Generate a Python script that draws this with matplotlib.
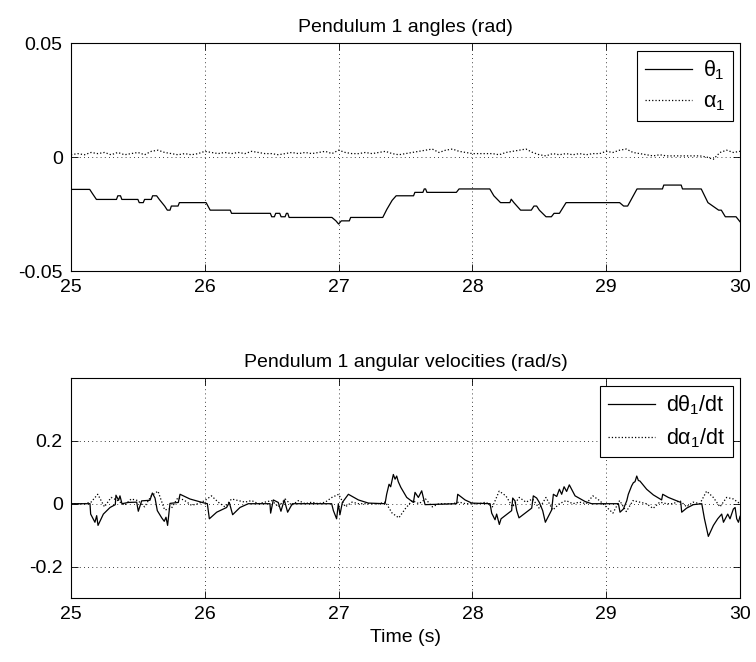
import matplotlib

matplotlib.use("Agg")
import matplotlib.pyplot as plt
import numpy as np

plt.rcParams["font.family"] = ["Liberation Sans", "DejaVu Sans"]
plt.rcParams["mathtext.fontset"] = "custom"
plt.rcParams["mathtext.rm"] = "Liberation Sans"
plt.rcParams["mathtext.it"] = "Liberation Sans"
plt.rcParams["axes.unicode_minus"] = False

# --- pendulum 1 angle theta_1 (rad), breakpoints
theta_t = [
    25.00, 25.14, 25.16, 25.19, 25.34, 25.35, 25.37, 25.38, 25.50, 25.51,
    25.54, 25.55, 25.60, 25.61, 25.64, 25.66, 25.70, 25.72, 25.74, 25.75,
    25.80, 25.81, 26.01, 26.04, 26.19, 26.20, 26.49, 26.50, 26.52, 26.53,
    26.56, 26.57, 26.60, 26.61, 26.62, 26.63, 26.95, 26.98, 27.00, 27.02,
    27.08, 27.09, 27.33, 27.36, 27.40, 27.43, 27.56, 27.57, 27.63, 27.64,
    27.65, 27.66, 27.88, 27.90, 28.13, 28.16, 28.21, 28.28, 28.29, 28.31,
    28.36, 28.44, 28.46, 28.48, 28.50, 28.55, 28.59, 28.61, 28.65, 28.70,
    29.10, 29.13, 29.16, 29.23, 29.42, 29.43, 29.56, 29.57, 29.71, 29.76,
    29.84, 29.86, 29.89, 29.97, 30.00,
]
theta_v = [
    -0.0142, -0.0142, -0.0160, -0.0186, -0.0186, -0.0170, -0.0170, -0.0186, -0.0186, -0.0200,
    -0.0200, -0.0186, -0.0186, -0.0170, -0.0170, -0.0186, -0.0215, -0.0233, -0.0233, -0.0215,
    -0.0215, -0.0200, -0.0200, -0.0233, -0.0233, -0.0247, -0.0247, -0.0262, -0.0262, -0.0247,
    -0.0247, -0.0262, -0.0262, -0.0247, -0.0247, -0.0265, -0.0265, -0.0280, -0.0294, -0.0280,
    -0.0280, -0.0265, -0.0265, -0.0230, -0.0190, -0.0170, -0.0170, -0.0155, -0.0155, -0.0140,
    -0.0140, -0.0155, -0.0155, -0.0140, -0.0140, -0.0170, -0.0200, -0.0200, -0.0185, -0.0200,
    -0.0233, -0.0233, -0.0215, -0.0215, -0.0233, -0.0262, -0.0262, -0.0247, -0.0247, -0.0200,
    -0.0200, -0.0215, -0.0215, -0.0140, -0.0140, -0.0123, -0.0123, -0.0140, -0.0140, -0.0200,
    -0.0233, -0.0233, -0.0262, -0.0262, -0.0284,
]

# --- pendulum 1 angle alpha_1 (rad), sampled every 0.05 s
alpha_v = [
    0.0010, 0.0015, 0.0010, 0.0020, 0.0015, 0.0020, 0.0010, 0.0020, 0.0010, 0.0015,
    0.0020, 0.0010, 0.0025, 0.0030, 0.0020, 0.0015, 0.0010, 0.0015, 0.0010, 0.0015,
    0.0025, 0.0020, 0.0015, 0.0020, 0.0015, 0.0020, 0.0015, 0.0025, 0.0020, 0.0015,
    0.0015, 0.0010, 0.0015, 0.0020, 0.0015, 0.0020, 0.0015, 0.0020, 0.0025, 0.0015,
    0.0030, 0.0020, 0.0015, 0.0015, 0.0020, 0.0015, 0.0020, 0.0025, 0.0015, 0.0010,
    0.0015, 0.0020, 0.0025, 0.0030, 0.0035, 0.0020, 0.0030, 0.0035, 0.0025, 0.0020,
    0.0015, 0.0015, 0.0015, 0.0015, 0.0010, 0.0020, 0.0025, 0.0030, 0.0035, 0.0020,
    0.0010, 0.0005, 0.0015, 0.0010, 0.0015, 0.0010, 0.0015, 0.0010, 0.0015, 0.0015,
    0.0025, 0.0020, 0.0030, 0.0035, 0.0020, 0.0015, 0.0010, 0.0005, 0.0010, 0.0005,
    0.0005, 0.0005, 0.0005, 0.0005, 0.0005, 0.0000, -0.0010, 0.0020, 0.0030, 0.0020,
    0.0025,
]
alpha_t = np.linspace(25.0, 30.0, len(alpha_v))

# --- d theta_1 / dt (rad/s), breakpoints
dtheta_t = [
    25.000, 25.142, 25.147, 25.179, 25.192, 25.202, 25.242, 25.292, 25.331, 25.336,
    25.356, 25.366, 25.381, 25.428, 25.491, 25.503, 25.528, 25.590, 25.608, 25.628,
    25.645, 25.678, 25.697, 25.710, 25.722, 25.740, 25.802, 25.815, 25.889, 25.989,
    26.019, 26.034, 26.089, 26.163, 26.183, 26.208, 26.263, 26.325, 26.487, 26.492,
    26.512, 26.549, 26.569, 26.594, 26.619, 26.654, 26.948, 26.961, 26.985, 26.998,
    27.010, 27.028, 27.073, 27.148, 27.222, 27.347, 27.359, 27.377, 27.389, 27.409,
    27.422, 27.434, 27.446, 27.465, 27.509, 27.559, 27.571, 27.596, 27.621, 27.646,
    27.882, 27.890, 27.945, 27.995, 28.132, 28.144, 28.169, 28.181, 28.201, 28.214,
    28.293, 28.301, 28.318, 28.331, 28.348, 28.443, 28.455, 28.480, 28.500, 28.525,
    28.545, 28.592, 28.605, 28.630, 28.650, 28.667, 28.685, 28.704, 28.724, 28.767,
    28.842, 28.891, 29.091, 29.103, 29.128, 29.153, 29.165, 29.190, 29.203, 29.215,
    29.228, 29.240, 29.252, 29.302, 29.352, 29.414, 29.422, 29.464, 29.539, 29.557,
    29.564, 29.601, 29.651, 29.714, 29.734, 29.763, 29.801, 29.833, 29.863, 29.876,
    29.908, 29.925, 29.950, 29.963, 29.975, 29.988, 30.000,
]
dtheta_v = [
    0.000, 0.000, -0.033, -0.059, -0.038, -0.069, -0.033, -0.012, -0.003, 0.027,
    0.011, 0.025, 0.000, 0.004, 0.005, -0.024, 0.009, 0.011, 0.034, 0.018,
    -0.022, -0.045, -0.056, -0.043, -0.069, 0.001, 0.004, 0.030, 0.015, 0.003,
    0.000, -0.048, -0.027, -0.012, 0.004, -0.035, -0.012, 0.000, 0.000, -0.030,
    0.012, 0.004, -0.024, 0.012, -0.027, 0.000, 0.000, -0.022, -0.048, 0.000,
    -0.035, 0.004, 0.030, 0.012, 0.002, 0.000, 0.030, 0.062, 0.054, 0.093,
    0.078, 0.088, 0.070, 0.052, 0.020, 0.004, 0.036, 0.020, 0.041, -0.003,
    0.000, 0.030, 0.012, 0.002, 0.000, -0.030, -0.051, -0.033, -0.066, -0.048,
    -0.022, 0.018, 0.009, -0.022, -0.045, -0.014, 0.025, 0.018, 0.004, -0.022,
    -0.059, -0.020, 0.030, 0.023, 0.046, 0.030, 0.054, 0.039, 0.060, 0.025,
    0.007, 0.000, 0.000, -0.027, -0.017, 0.009, 0.030, 0.057, 0.067, 0.070,
    0.088, 0.074, 0.072, 0.046, 0.028, 0.012, 0.030, 0.020, 0.007, 0.004,
    -0.027, -0.014, -0.003, 0.000, -0.048, -0.104, -0.069, -0.048, -0.033, -0.059,
    -0.033, -0.048, -0.017, -0.012, -0.048, -0.059, -0.040,
]

# --- d alpha_1 / dt (rad/s), sampled every 0.05 s
dalpha_v = [
    0.000, 0.000, 0.000, 0.005, 0.030, -0.010, 0.020, 0.010, -0.005, 0.015,
    0.010, -0.010, 0.025, 0.040, -0.020, -0.015, 0.020, 0.010, -0.005, 0.000,
    0.010, 0.025, 0.005, -0.010, 0.015, 0.010, 0.005, 0.010, 0.000, 0.005,
    0.010, -0.010, 0.015, -0.005, 0.010, 0.000, 0.005, 0.000, 0.005, 0.020,
    0.030, -0.010, 0.005, 0.000, 0.000, 0.000, 0.000, 0.005, -0.030, -0.045,
    -0.015, 0.010, 0.000, 0.015, -0.010, 0.000, 0.000, 0.000, 0.005, 0.000,
    0.000, 0.000, 0.005, -0.010, 0.040, 0.025, -0.010, 0.020, 0.005, 0.015,
    -0.015, 0.020, -0.020, 0.000, 0.010, 0.000, 0.005, 0.000, 0.025, 0.010,
    -0.010, -0.030, 0.010, -0.025, 0.010, 0.005, 0.000, -0.015, 0.005, 0.000,
    0.000, 0.010, -0.010, 0.005, 0.000, 0.040, 0.020, -0.010, 0.020, 0.015,
    0.000,
]
dalpha_t = np.linspace(25.0, 30.0, len(dalpha_v))

x_ticks = [25, 26, 27, 28, 29, 30]
top_yticks = [-0.05, 0, 0.05]
top_yticklabels = ["-0.05", "0", "0.05"]
bot_yticks = [-0.2, 0, 0.2]
bot_yticklabels = ["-0.2", "0", "0.2"]

FS = 14


def style_axes(ax):
    ax.set_xlim(25, 30)
    ax.set_xticks(x_ticks)
    ax.tick_params(direction="in", top=True, right=True, labelsize=FS,
                   length=5, width=0.6, pad=6)
    ax.grid(True, color="k", linestyle=(0, (1, 4)), linewidth=0.6)
    for spine in ax.spines.values():
        spine.set_linewidth(0.8)


def add_legend(ax):
    leg = ax.legend(loc="upper right", fontsize=15.5, fancybox=False,
                    edgecolor="k", framealpha=1, handlelength=2.2,
                    handletextpad=0.5, borderaxespad=0.35, borderpad=0.35,
                    labelspacing=0.45)
    leg.get_frame().set_linewidth(0.8)
    return leg


fig = plt.figure(figsize=(7.56, 6.62), dpi=100)
ax1 = fig.add_axes([0.0939, 0.5906, 0.885, 0.3444])
ax2 = fig.add_axes([0.0939, 0.0967, 0.885, 0.3323])

ax1.plot(theta_t, theta_v, color="k", linewidth=0.9, label=r"$\theta_1$")
ax1.plot(alpha_t, alpha_v, color="k", linewidth=0.9, linestyle=":",
         label=r"$\alpha_1$")
style_axes(ax1)
ax1.set_ylim(-0.05, 0.05)
ax1.set_yticks(top_yticks)
ax1.set_yticklabels(top_yticklabels)
ax1.set_title("Pendulum 1 angles (rad)", fontsize=FS, pad=8)
add_legend(ax1)

ax2.plot(dtheta_t, dtheta_v, color="k", linewidth=0.9, label=r"$d\theta_1/dt$")
ax2.plot(dalpha_t, dalpha_v, color="k", linewidth=0.9, linestyle=":",
         label=r"$d\alpha_1/dt$")
style_axes(ax2)
ax2.set_ylim(-0.3, 0.4)
ax2.set_yticks(bot_yticks)
ax2.set_yticklabels(bot_yticklabels)
ax2.set_title("Pendulum 1 angular velocities (rad/s)", fontsize=FS, pad=8)
ax2.set_xlabel("Time (s)", fontsize=FS, labelpad=4)
add_legend(ax2)

fig.savefig("out.png", dpi=100)
plt.close(fig)
